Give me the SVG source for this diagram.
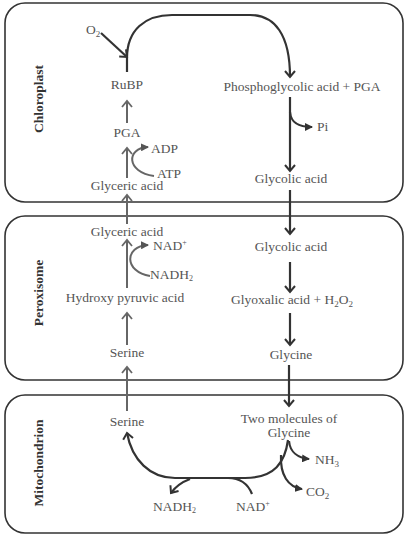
<svg xmlns="http://www.w3.org/2000/svg" width="409" height="539" viewBox="0 0 409 539">
<style>
.box{fill:none;stroke:#333;stroke-width:1.6}
.t{font-family:"Liberation Serif","Times New Roman",serif;font-size:13.5px;fill:#555}
.lab{font-family:"Liberation Serif","Times New Roman",serif;font-size:13.5px;font-weight:bold;fill:#333}
.d{fill:none;stroke:#333;stroke-width:2.2}
.g{fill:none;stroke:#666;stroke-width:2}
</style>
<defs>
<marker id="chev" markerUnits="userSpaceOnUse" markerWidth="12" markerHeight="12" viewBox="0 0 12 12" refX="10" refY="6" orient="auto">
<path d="M4,1 L10,6 L4,11" fill="none" stroke="#333" stroke-width="2"/>
</marker>
<marker id="chevg" markerUnits="userSpaceOnUse" markerWidth="12" markerHeight="12" viewBox="0 0 12 12" refX="10" refY="6" orient="auto">
<path d="M4,1 L10,6 L4,11" fill="none" stroke="#666" stroke-width="1.8"/>
</marker>
<marker id="tri" markerUnits="userSpaceOnUse" markerWidth="8" markerHeight="8" viewBox="0 0 8 8" refX="7" refY="4" orient="auto">
<path d="M0,0 L8,4 L0,8 z" fill="#333"/>
</marker>
<marker id="trig" markerUnits="userSpaceOnUse" markerWidth="8" markerHeight="8" viewBox="0 0 8 8" refX="7" refY="4" orient="auto">
<path d="M0,0 L8,4 L0,8 z" fill="#555"/>
</marker>
</defs>
<rect x="0" y="0" width="409" height="539" fill="#fff"/>

<g id="chloroplast">
<rect class="box" x="5" y="3" width="398" height="199" rx="20"/>
<text class="lab" transform="translate(43,99) rotate(-90)" text-anchor="middle">Chloroplast</text>
</g>
<g id="peroxisome">
<rect class="box" x="5" y="216" width="398" height="164" rx="20"/>
<text class="lab" transform="translate(43,293) rotate(-90)" text-anchor="middle">Peroxisome</text>
</g>
<g id="mitochondrion">
<rect class="box" x="5" y="395" width="398" height="138" rx="20"/>
<text class="lab" transform="translate(43,463) rotate(-90)" text-anchor="middle">Mitochondrion</text>
</g>

<g id="n-o2"><text class="t" x="86" y="34">O<tspan font-size="9" dy="3">2</tspan></text></g>
<g id="n-rubp"><text class="t" x="127" y="89" text-anchor="middle">RuBP</text></g>
<g id="n-pga"><text class="t" x="127" y="137" text-anchor="middle">PGA</text></g>
<g id="n-adp"><text class="t" x="151" y="153">ADP</text></g>
<g id="n-atp"><text class="t" x="157" y="178">ATP</text></g>
<g id="n-glyceric1"><text class="t" x="127" y="190" text-anchor="middle">Glyceric acid</text></g>
<g id="n-phospho"><text class="t" x="302" y="91" text-anchor="middle">Phosphoglycolic acid + PGA</text></g>
<g id="n-pi"><text class="t" x="317" y="131">Pi</text></g>
<g id="n-glycolic1"><text class="t" x="291" y="183" text-anchor="middle">Glycolic acid</text></g>

<g id="n-glyceric2"><text class="t" x="127" y="236" text-anchor="middle">Glyceric acid</text></g>
<g id="n-nad1"><text class="t" x="153" y="250">NAD<tspan font-size="8" dy="-5">+</tspan></text></g>
<g id="n-nadh1"><text class="t" x="150" y="279">NADH<tspan font-size="8" dy="2">2</tspan></text></g>
<g id="n-hydroxy"><text class="t" x="125" y="302" text-anchor="middle">Hydroxy pyruvic acid</text></g>
<g id="n-serine1"><text class="t" x="127" y="357" text-anchor="middle">Serine</text></g>
<g id="n-glycolic2"><text class="t" x="291" y="251" text-anchor="middle">Glycolic acid</text></g>
<g id="n-glyoxalic"><text class="t" x="292" y="304" text-anchor="middle">Glyoxalic acid + H<tspan font-size="9" dy="3">2</tspan><tspan dy="-3">O</tspan><tspan font-size="9" dy="3">2</tspan></text></g>
<g id="n-glycine1"><text class="t" x="291" y="359" text-anchor="middle">Glycine</text></g>

<g id="n-serine2"><text class="t" x="127" y="426" text-anchor="middle">Serine</text></g>
<g id="n-twoglycine"><text class="t" x="289" y="423" text-anchor="middle">Two molecules of</text><text class="t" x="289" y="437" text-anchor="middle">Glycine</text></g>
<g id="n-nh3"><text class="t" x="315" y="464">NH<tspan font-size="9" dy="3">3</tspan></text></g>
<g id="n-co2"><text class="t" x="306" y="496">CO<tspan font-size="9" dy="3">2</tspan></text></g>
<g id="n-nad2"><text class="t" x="236" y="511">NAD<tspan font-size="8" dy="-5">+</tspan></text></g>
<g id="n-nadh2"><text class="t" x="153" y="511">NADH<tspan font-size="8" dy="2">2</tspan></text></g>

<g id="connectors">
<line class="g" x1="127" y1="411" x2="127" y2="367" marker-end="url(#chevg)"/>
<line class="g" x1="127" y1="345" x2="127" y2="313" marker-end="url(#chevg)"/>
<line class="g" x1="127" y1="288" x2="127" y2="240" marker-end="url(#chevg)"/>
<path class="g" d="M150,276 C124,272 124,246 148,245" marker-end="url(#trig)"/>
<line class="g" x1="127" y1="224" x2="127" y2="195" marker-end="url(#chevg)"/>
<line class="g" x1="127" y1="178" x2="127" y2="148" marker-end="url(#chevg)"/>
<path class="g" d="M154,176 C126,172 126,148 148,147" marker-end="url(#trig)"/>
<line class="g" x1="127" y1="123" x2="127" y2="101" marker-end="url(#chevg)"/>

<path class="d" d="M127,72 L127,58 C127,30 145,15 172,15 L250,15 C275,15 290,35 290,77" marker-end="url(#chev)"/>
<line class="d" stroke-width="1.8" x1="101" y1="33" x2="127" y2="57" marker-end="url(#chev)"/>
<line class="d" x1="290" y1="97" x2="290" y2="171" marker-end="url(#chev)"/>
<path class="d" stroke-width="1.8" d="M290,112 C291,124 300,127 312,127" marker-end="url(#tri)"/>
<line class="d" x1="290" y1="190" x2="290" y2="234" marker-end="url(#chev)"/>
<line class="d" x1="290" y1="262" x2="290" y2="292" marker-end="url(#chev)"/>
<line class="d" x1="290" y1="313" x2="290" y2="345" marker-end="url(#chev)"/>
<line class="d" x1="289" y1="365" x2="289" y2="406" marker-end="url(#chev)"/>

<path class="d" stroke-width="2.6" d="M288,440 C285,462 275,478 245,478 L175,478 C150,478 132,460 127,433" marker-end="url(#chev)"/>
<path class="d" stroke-width="2.6" d="M281,455 C280,475 288,487 302,489" marker-end="url(#tri)"/>
<path class="d" stroke-width="2" d="M289,441 C290,452 298,458 309,459" marker-end="url(#tri)"/>
<path class="d" stroke-width="2" d="M252,494 C248,484 240,478 228,478"/>
<path class="d" stroke-width="2" d="M190,479 C182,482 176,486 171,493" marker-end="url(#chev)"/>
</g>
</svg>
